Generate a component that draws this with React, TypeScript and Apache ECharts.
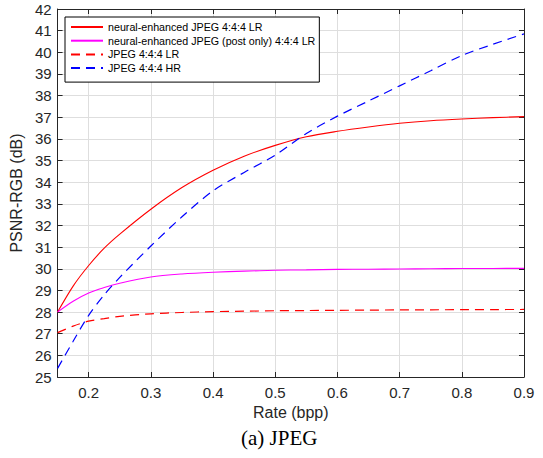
import React, { useEffect, useRef } from "react";
import * as echarts from "echarts";

const rates = [0.15, 0.175, 0.2, 0.225, 0.25, 0.3, 0.35, 0.4, 0.45, 0.5, 0.55, 0.6, 0.65, 0.7, 0.75, 0.8, 0.85, 0.9];
const neuralLR = [28.0, 29.2, 30.15, 30.95, 31.6, 32.75, 33.75, 34.55, 35.2, 35.7, 36.1, 36.35, 36.55, 36.72, 36.84, 36.92, 36.98, 37.03];
const neuralPostLR = [28.0, 28.5, 28.88, 29.13, 29.33, 29.62, 29.76, 29.84, 29.89, 29.93, 29.95, 29.97, 29.98, 29.99, 30.0, 30.01, 30.015, 30.02];
const jpegLR = [27.05, 27.35, 27.58, 27.7, 27.8, 27.92, 27.98, 28.02, 28.04, 28.06, 28.07, 28.08, 28.09, 28.1, 28.105, 28.11, 28.115, 28.12];
const jpegHR = [25.4, 26.65, 27.85, 28.8, 29.6, 31.05, 32.4, 33.6, 34.45, 35.25, 36.25, 37.05, 37.75, 38.45, 39.15, 39.85, 40.37, 40.85];

const seriesNames = [
  "neural-enhanced JPEG 4:4:4 LR",
  "neural-enhanced JPEG (post only) 4:4:4 LR",
  "JPEG 4:4:4 LR",
  "JPEG 4:4:4 HR",
];
const seriesValues = [neuralLR, neuralPostLR, jpegLR, jpegHR];
const seriesColors = ["#ff0000", "#ff00ff", "#ff0000", "#0000ff"];
const seriesDashed = [false, false, true, true];

const xLabel = "Rate (bpp)";
const yLabel = "PSNR-RGB (dB)";
const caption = "(a) JPEG";

const FONT = "'Liberation Sans', Arial, Helvetica, sans-serif";
const AXIS_COLOR = "#262626";
const GRID_COLOR = "#dedede";

export default function App() {
  const ref = useRef<HTMLDivElement>(null);
  useEffect(() => {
    document.body.style.margin = "0";
    if (!ref.current) return;
    const chart = echarts.init(ref.current, null, { renderer: "svg" });

    const xBase = {
      type: "value" as const,
      min: 0.15,
      max: 0.9,
      splitNumber: 8,
      minInterval: 0.1,
      maxInterval: 0.1,
    };
    const yBase = {
      type: "value" as const,
      min: 25,
      max: 42,
      interval: 1,
    };
    const axisLine = { show: true, onZero: false, lineStyle: { color: AXIS_COLOR, width: 1 } };
    const tick = { show: true, inside: true, length: 5, lineStyle: { color: AXIS_COLOR, width: 1 } };

    chart.setOption({
      animation: false,
      backgroundColor: "#ffffff",
      grid: { left: 57, right: 19, top: 9, bottom: 81, containLabel: false },
      title: {
        text: caption,
        left: 241,
        top: 427,
        padding: 0,
        textStyle: { fontFamily: "'Liberation Serif', 'Times New Roman', serif", fontSize: 21, fontWeight: "normal", color: "#000" },
      },
      legend: {
        show: true,
        orient: "vertical",
        left: 65,
        top: 17,
        padding: [4.5, 4, 8.5, 5],
        itemWidth: 32,
        itemHeight: 11,
        itemGap: 2.7,
        backgroundColor: "#ffffff",
        borderColor: "#000000",
        borderWidth: 1,
        borderRadius: 0,
        itemStyle: { opacity: 0 },
        textStyle: { fontFamily: FONT, fontSize: 10.7, color: "#000" },
        data: seriesNames,
      },
      xAxis: [
        {
          ...xBase,
          position: "bottom",
          name: xLabel,
          nameLocation: "middle",
          nameGap: 26,
          nameTextStyle: { fontFamily: FONT, fontSize: 16, color: AXIS_COLOR },
          axisLine,
          axisTick: tick,
          axisLabel: {
            margin: 8,
            fontFamily: FONT,
            fontSize: 15,
            color: AXIS_COLOR,
            formatter: (v: number) => (Math.abs(v - 0.15) < 1e-6 ? "" : v.toFixed(1)),
          },
          splitLine: { show: true, lineStyle: { color: GRID_COLOR, width: 1 } },
        },
        {
          ...xBase,
          position: "top",
          axisLine,
          axisTick: tick,
          axisLabel: { show: false },
          splitLine: { show: false },
        },
      ],
      yAxis: [
        {
          ...yBase,
          position: "left",
          name: yLabel,
          nameLocation: "middle",
          nameGap: 28,
          nameTextStyle: { fontFamily: FONT, fontSize: 16, color: AXIS_COLOR },
          axisLine,
          axisTick: tick,
          axisLabel: { margin: 6, fontFamily: FONT, fontSize: 15, color: AXIS_COLOR },
          splitLine: { show: true, lineStyle: { color: GRID_COLOR, width: 1 } },
        },
        {
          ...yBase,
          position: "right",
          axisLine,
          axisTick: tick,
          axisLabel: { show: false },
          splitLine: { show: false },
        },
      ],
      series: seriesNames.map((name, i) => ({
        name,
        type: "line",
        xAxisIndex: 0,
        yAxisIndex: 0,
        symbol: "none",
        smooth: 0.3,
        data: rates.map((r, j) => [r, seriesValues[i][j]]),
        lineStyle: {
          color: seriesColors[i],
          width: seriesDashed[i] ? 1.2 : 1.1,
          type: seriesDashed[i] ? [9, 6] : "solid",
        },
        itemStyle: { color: seriesColors[i] },
      })),
    });
    return () => chart.dispose();
  }, []);
  return (
    <div
      ref={ref}
      style={{ position: "fixed", left: 0, top: 0, width: 543, height: 458 }}
    />
  );
}
